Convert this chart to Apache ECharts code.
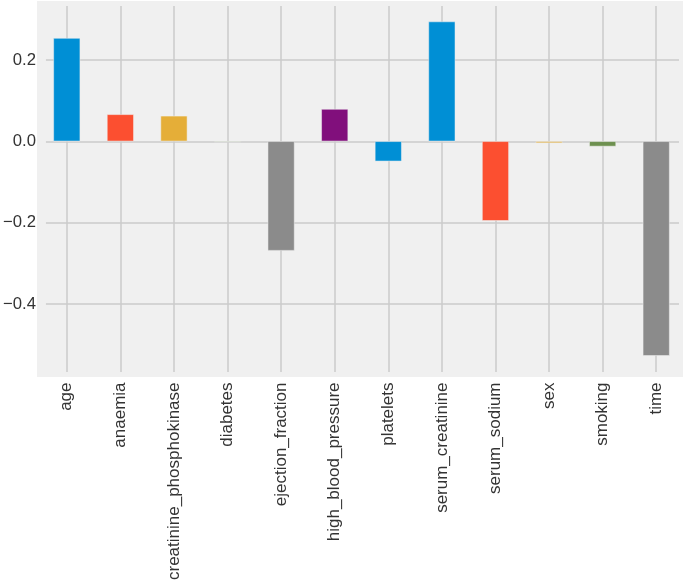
<!DOCTYPE html>
<html>
<head>
<meta charset="utf-8">
<script src="https://cdn.jsdelivr.net/npm/echarts@6/dist/echarts.min.js"></script>
<style>
html,body{margin:0;padding:0;background:#ffffff;}
#chart{width:685px;height:583px;}
</style>
</head>
<body>
<div id="chart"></div>
<script>
const categories = ['age','anaemia','creatinine_phosphokinase','diabetes','ejection_fraction','high_blood_pressure','platelets','serum_creatinine','serum_sodium','sex','smoking','time'];
const values = [0.2537, 0.0663, 0.0627, -0.0019, -0.2686, 0.0794, -0.0491, 0.2943, -0.1952, -0.0043, -0.0126, -0.5270];
const barColors = ['#008fd5','#fc4f30','#e5ae38','#6d904f','#8b8b8b','#810f7c','#008fd5','#008fd5','#fc4f30','#e5ae38','#6d904f','#8b8b8b'];
const yMin = -0.568, yMax = 0.335;

const chart = echarts.init(document.getElementById('chart'), null, {renderer:'canvas'});
const font = '"Liberation Sans", Arial, sans-serif';
const gridLine = {show:true, lineStyle:{color:'#cbcbcb', width:1.5}};

chart.setOption({
  animation:false,
  backgroundColor:'#ffffff',
  graphic:[{type:'rect', z:-10, shape:{x:37, y:1, width:646, height:376}, style:{fill:'#f0f0f0'}}],
  grid:[
    {left:40, width:643, top:5, bottom:210.5},
    {left:42, width:637, top:5, bottom:210.5},
    {left:66.8, right:28.8, top:6, bottom:211}
  ],
  xAxis:[
    {type:'category', gridIndex:0, data:categories, boundaryGap:true,
     axisLine:{show:false}, axisTick:{show:false}, splitLine:{show:false},
     axisLabel:{rotate:90, interval:0, margin:10, color:'#333333', fontSize:17, fontFamily:font}},
    {type:'value', gridIndex:1, min:0, max:1, show:false},
    {type:'value', gridIndex:2, min:0, max:11, interval:1,
     axisLine:{show:false}, axisTick:{show:false}, axisLabel:{show:false},
     splitLine:gridLine}
  ],
  yAxis:[
    {type:'value', gridIndex:0, min:yMin, max:yMax,
     axisLine:{show:false}, axisTick:{show:false}, axisLabel:{show:false}, splitLine:{show:false}},
    {type:'value', gridIndex:1, min:yMin, max:yMax, splitNumber:5,
     axisLine:{show:false}, axisTick:{show:false},
     axisLabel:{margin:10, color:'#333333', fontSize:16.7, fontFamily:font,
       showMinLabel:false, showMaxLabel:false,
       formatter:function(v){return v.toFixed(1).replace('-','\u2212');}},
     splitLine:{show:true, showMinLine:false, showMaxLine:false, lineStyle:{color:'#cbcbcb', width:1.5}}},
    {type:'value', gridIndex:2, min:0, max:1, show:false}
  ],
  series:[
    {type:'bar', xAxisIndex:0, yAxisIndex:0, barWidth:'50%', z:5,
     data:values.map(function(v,i){return {value:v, itemStyle:{color:barColors[i]}};}),
     itemStyle:{borderColor:'#f0f0f0', borderWidth:0.5}}
  ]
});
</script>
</body>
</html>
